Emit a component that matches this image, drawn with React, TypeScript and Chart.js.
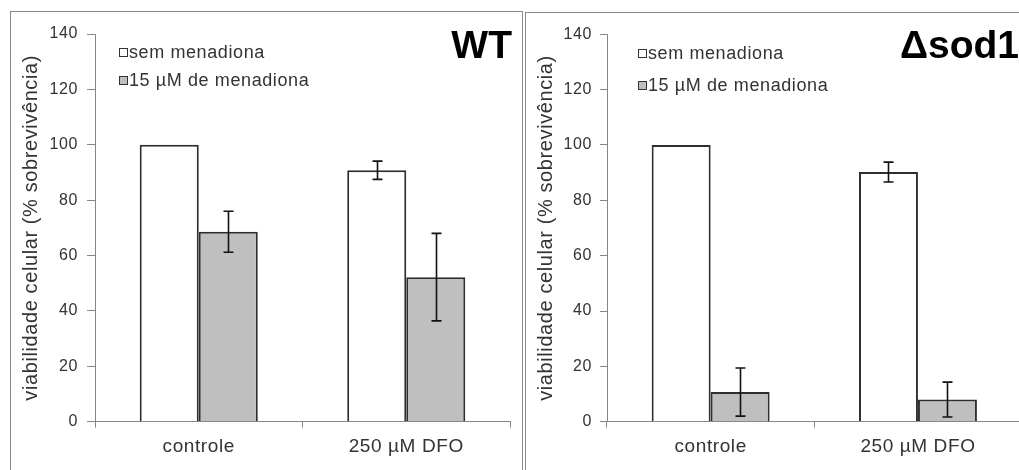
import React, { useEffect, useRef } from 'react';
import { Chart, registerables } from 'chart.js';

Chart.register(...registerables);

// ---- data ----
const categories = ['controle', '250 µM DFO'];
const seriesNames = ['sem menadiona', '15 µM de menadiona'];
const yTitle = 'viabilidade celular (% sobrevivência)';
const yMin = 0;
const yMax = 140;
const yStep = 20;

const wtTitle = 'WT';
const wtSem = [100, 90.8];
const wtSemErr = [0, 3.3];
const wtMen = [68.6, 52.2];
const wtMenErr = [7.4, 15.8];

const sodTitle = 'Δsod1';
const sodSem = [100, 90.2];
const sodSemErr = [0, 3.6];
const sodMen = [10.7, 8.0];
const sodMenErr = [8.7, 6.3];

const FONT = '"Liberation Sans", Arial, Helvetica, sans-serif';
const LS = '0.6px';
const TEXT = '#333333';
const AXIS = '#868686';
const FILLS = ['#ffffff', '#bfbfbf'];

Chart.defaults.font.family = FONT;

type Geo = {
  yAxisWidth: number;
  padRight: number;
  padTop: number;
  xAxisHeight: number;
  yTickLen: number;
  yTickPad: number;
  xTickPad: number;
  titlePad: number;
  legendX: number;
  legendY: number[];
  titleRight: number;
  titleBase: number;
};

const decorPlugin = {
  id: 'decor',
  beforeUpdate(chart: any) {
    chart.ctx.letterSpacing = LS;
  },
  beforeDraw(chart: any) {
    chart.ctx.letterSpacing = LS;
  },
  afterDatasetsDraw(chart: any, _args: any, opts: any) {
    const ctx = chart.ctx;
    const yScale = chart.scales.y;
    ctx.save();
    ctx.strokeStyle = '#111111';
    ctx.lineWidth = 1.6;
    chart.data.datasets.forEach((ds: any, i: number) => {
      const meta = chart.getDatasetMeta(i);
      const errs: number[] = opts.errors[i];
      meta.data.forEach((bar: any, j: number) => {
        const e = errs[j];
        if (!e) return;
        const v = ds.data[j];
        const x = Math.round(bar.x) + 0.5;
        const yt = yScale.getPixelForValue(v + e);
        const yb = yScale.getPixelForValue(v - e);
        ctx.beginPath();
        ctx.moveTo(x, yt);
        ctx.lineTo(x, yb);
        ctx.moveTo(x - 5, yt);
        ctx.lineTo(x + 5, yt);
        ctx.moveTo(x - 5, yb);
        ctx.lineTo(x + 5, yb);
        ctx.stroke();
      });
    });
    ctx.restore();
  },
  afterDraw(chart: any, _args: any, opts: any) {
    const ctx = chart.ctx;
    ctx.save();
    ctx.letterSpacing = LS;
    ctx.font = `18px ${FONT}`;
    ctx.textBaseline = 'middle';
    ctx.textAlign = 'left';
    chart.data.datasets.forEach((ds: any, i: number) => {
      const cy = opts.legendY[i];
      const x0 = opts.legendX;
      ctx.fillStyle = ds.backgroundColor;
      ctx.fillRect(x0, cy - 4, 9, 9);
      ctx.strokeStyle = '#333333';
      ctx.lineWidth = 1;
      ctx.strokeRect(x0 + 0.5, cy - 3.5, 8, 8);
      ctx.fillStyle = TEXT;
      ctx.fillText(ds.label, x0 + 10, cy + 1);
    });
    ctx.letterSpacing = '0px';
    ctx.font = `bold 39px ${FONT}`;
    ctx.textAlign = 'right';
    ctx.textBaseline = 'alphabetic';
    ctx.fillStyle = '#000000';
    ctx.fillText(opts.title, opts.titleRight, opts.titleBase);
    ctx.restore();
  },
};

function BarPanel(props: {
  title: string;
  sem: number[];
  semErr: number[];
  men: number[];
  menErr: number[];
  geo: Geo;
  width: number;
  height: number;
}) {
  const ref = useRef<HTMLCanvasElement | null>(null);
  useEffect(() => {
    const g = props.geo;
    const chart = new Chart(ref.current as HTMLCanvasElement, {
      type: 'bar',
      data: {
        labels: categories,
        datasets: [
          {
            label: seriesNames[0],
            data: props.sem,
            backgroundColor: FILLS[0],
            borderColor: '#2e2e2e',
            borderWidth: 2,
            categoryPercentage: 0.569,
            barPercentage: 1,
          },
          {
            label: seriesNames[1],
            data: props.men,
            backgroundColor: FILLS[1],
            borderColor: '#2e2e2e',
            borderWidth: 2,
            categoryPercentage: 0.569,
            barPercentage: 1,
          },
        ],
      },
      options: {
        responsive: false,
        animation: false,
        devicePixelRatio: 1,
        layout: { padding: { left: 0, right: g.padRight, top: g.padTop, bottom: 0 } },
        plugins: {
          legend: { display: false },
          tooltip: { enabled: false },
          title: { display: false },
          decor: {
            errors: [props.semErr, props.menErr],
            legendX: g.legendX,
            legendY: g.legendY,
            title: props.title,
            titleRight: g.titleRight,
            titleBase: g.titleBase,
          },
        } as any,
        scales: {
          x: {
            offset: true,
            grid: {
              display: true,
              offset: true,
              drawOnChartArea: false,
              drawTicks: true,
              tickLength: 6,
              color: AXIS,
              lineWidth: 1,
            },
            border: { display: true, color: AXIS, width: 1 },
            ticks: {
              color: TEXT,
              font: { size: 19, family: FONT },
              padding: g.xTickPad,
              maxRotation: 0,
              autoSkip: false,
            },
            afterFit: (s: any) => {
              s.height = g.xAxisHeight;
            },
          },
          y: {
            min: yMin,
            max: yMax,
            grid: {
              display: true,
              drawOnChartArea: false,
              drawTicks: true,
              tickLength: g.yTickLen,
              color: AXIS,
              lineWidth: 1,
            },
            border: { display: true, color: AXIS, width: 1 },
            ticks: {
              stepSize: yStep,
              color: TEXT,
              font: { size: 16, family: FONT },
              padding: g.yTickPad,
            },
            title: {
              display: true,
              text: yTitle,
              color: TEXT,
              font: { size: 20, family: FONT },
              padding: { top: g.titlePad, bottom: 0 },
            },
            afterFit: (s: any) => {
              s.width = g.yAxisWidth;
            },
          },
        },
      },
      plugins: [decorPlugin as any],
    });
    return () => chart.destroy();
  }, []);
  return (
    <canvas
      ref={ref}
      width={props.width}
      height={props.height}
      style={{ display: 'block', width: props.width, height: props.height }}
    />
  );
}

const wtGeo: Geo = {
  yAxisWidth: 84,
  padRight: 12,
  padTop: 22,
  xAxisHeight: 48.3,
  yTickLen: 8,
  yTickPad: 9,
  xTickPad: 8,
  titlePad: 8.5,
  legendX: 108,
  legendY: [40, 68],
  titleRight: 501,
  titleBase: 46,
};

const sodGeo: Geo = {
  yAxisWidth: 81,
  padRight: 15.4,
  padTop: 21.3,
  xAxisHeight: 48.3,
  yTickLen: 7,
  yTickPad: 8,
  xTickPad: 8,
  titlePad: 8.2,
  legendX: 112,
  legendY: [40, 72],
  titleRight: 493,
  titleBase: 45,
};

export default function App() {
  return (
    <div
      style={{
        position: 'fixed',
        left: 0,
        top: 0,
        width: 1019,
        height: 470,
        overflow: 'hidden',
        background: '#ffffff',
      }}
    >
      <div
        style={{
          position: 'absolute',
          left: 10,
          top: 11,
          width: 511,
          height: 480,
          border: '1px solid #8a8a8a',
        }}
      >
        <BarPanel
          title={wtTitle}
          sem={wtSem}
          semErr={wtSemErr}
          men={wtMen}
          menErr={wtMenErr}
          geo={wtGeo}
          width={511}
          height={458}
        />
      </div>
      <div
        style={{
          position: 'absolute',
          left: 525,
          top: 12,
          width: 511,
          height: 480,
          border: '1px solid #8a8a8a',
        }}
      >
        <BarPanel
          title={sodTitle}
          sem={sodSem}
          semErr={sodSemErr}
          men={sodMen}
          menErr={sodMenErr}
          geo={sodGeo}
          width={511}
          height={457}
        />
      </div>
    </div>
  );
}
